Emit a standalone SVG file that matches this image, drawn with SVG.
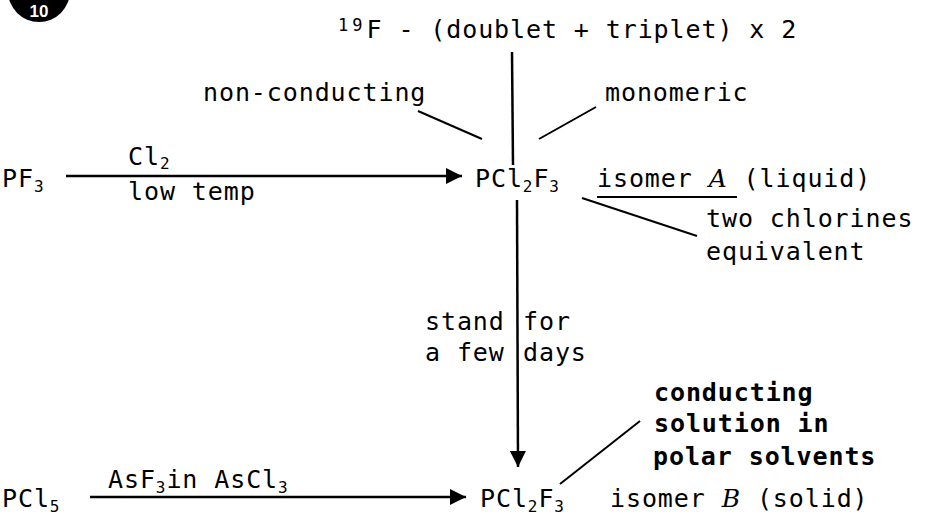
<svg xmlns="http://www.w3.org/2000/svg" width="927" height="526" viewBox="0 0 927 526">
<defs>
<style>
text { font-family: "DejaVu Sans Mono", "Liberation Mono", monospace; font-size: 25px; fill: #000; letter-spacing: 0.9px; }
.b { font-weight: bold; }
.it { font-style: italic; font-family: "DejaVu Serif", "Liberation Serif", serif; }
.c { stroke: #000; stroke-width: 2.5; fill: none; }
.l { stroke: #000; stroke-width: 2; fill: none; }
</style>
<marker id="ah" markerUnits="userSpaceOnUse" markerWidth="18" markerHeight="16" refX="16" refY="8" orient="auto">
<path d="M0,0 L16,8 L0,16 Z" fill="#000"/>
</marker>
</defs>
<rect width="927" height="526" fill="#fff"/>

<g id="badge">
<circle cx="39" cy="-9" r="31" fill="#000"/>
<text x="39" y="17" text-anchor="middle" style="fill:#fff;font-family:'Liberation Sans',sans-serif;font-weight:bold;font-size:17px;letter-spacing:0">10</text>
</g>

<g id="connectors">
<line class="c" x1="512" y1="52" x2="513" y2="165"/>
<line class="c" x1="66" y1="176" x2="462" y2="176" marker-end="url(#ah)"/>
<line class="c" x1="517" y1="200" x2="518" y2="467" marker-end="url(#ah)"/>
<line class="c" x1="90" y1="497" x2="466" y2="497" marker-end="url(#ah)"/>
<line class="l" x1="418" y1="111" x2="482" y2="139"/>
<line class="l" x1="539" y1="139" x2="596" y2="107"/>
<line class="l" x1="582" y1="198" x2="697" y2="236"/>
<line class="l" x1="560" y1="484" x2="640" y2="421"/>
<line class="l" x1="597" y1="197" x2="737" y2="197"/>
</g>

<g id="nmr">
<text x="338" y="38"><tspan font-size="17" dy="-7" letter-spacing="4">19</tspan><tspan dy="7">F - (doublet + triplet) x 2</tspan></text>
</g>

<g id="nonconducting"><text x="203" y="101">non-conducting</text></g>
<g id="monomeric"><text x="605" y="101">monomeric</text></g>

<g id="pf3"><text x="2" y="187">PF<tspan font-size="16" dy="5">3</tspan></text></g>
<g id="cl2"><text x="128" y="165">Cl<tspan font-size="16" dy="4">2</tspan></text></g>
<g id="lowtemp"><text x="128" y="200">low temp</text></g>

<g id="pcl2f3-a"><text x="475" y="187">PCl<tspan font-size="16" dy="5">2</tspan><tspan dy="-5">F</tspan><tspan font-size="16" dy="5">3</tspan></text></g>
<g id="isomerA"><text x="597" y="187">isomer <tspan class="it">A</tspan> (liquid)</text></g>
<g id="twochlorines"><text x="706" y="227">two chlorines</text><text x="706" y="260">equivalent</text></g>

<g id="stand"><text x="425" y="330">stand</text><text x="425" y="361">a few</text></g>
<g id="fordays"><text x="523" y="330">for</text><text x="523" y="361">days</text></g>

<g id="conducting"><text class="b" x="654" y="401">conducting</text><text class="b" x="654" y="432">solution in</text><text class="b" x="653" y="465">polar solvents</text></g>

<g id="pcl5"><text x="2" y="507">PCl<tspan font-size="16" dy="5">5</tspan></text></g>
<g id="asf3"><text x="108" y="488">AsF<tspan font-size="16" dy="5">3</tspan><tspan dy="-5">in AsCl</tspan><tspan font-size="16" dy="5">3</tspan></text></g>
<g id="pcl2f3-b"><text x="480" y="507">PCl<tspan font-size="16" dy="5">2</tspan><tspan dy="-5">F</tspan><tspan font-size="16" dy="5">3</tspan></text></g>
<g id="isomerB"><text x="610" y="507">isomer <tspan class="it">B</tspan> (solid)</text></g>
</svg>
